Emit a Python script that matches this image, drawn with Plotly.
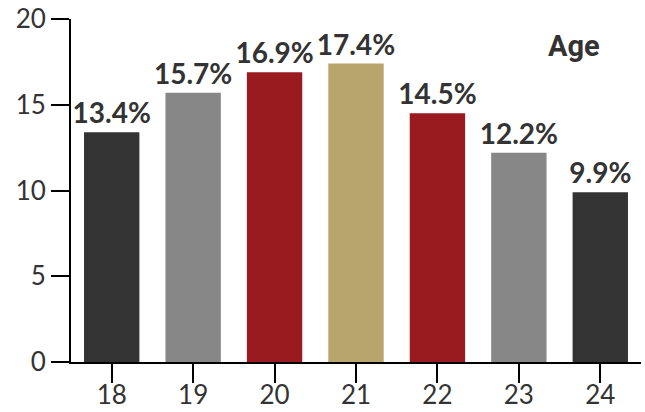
import plotly.graph_objects as go

ages = ["18", "19", "20", "21", "22", "23", "24"]
shares = [13.4, 15.7, 16.9, 17.4, 14.5, 12.2, 9.9]
bar_colors = ["#333333", "#878787", "#991b1f", "#b8a46d", "#991b1f", "#878787", "#333333"]
y_ticks = [0, 5, 10, 15, 20]

fig = go.Figure(
    go.Bar(
        x=ages,
        y=shares,
        marker=dict(color=bar_colors, line=dict(width=0)),
        text=[f"{v:.1f}%" for v in shares],
        textposition="outside",
        constraintext="none",
        textfont=dict(family="Lato", size=28, color="#333333", weight="bold"),
        cliponaxis=False,
    )
)

fig.add_annotation(
    text="<b>Age</b>",
    xref="paper", yref="paper",
    x=0.932, y=0.92, xanchor="right", yanchor="middle",
    showarrow=False,
    font=dict(family="Roboto", size=29, color="#333333"),
)

fig.update_layout(
    width=645, height=412,
    margin=dict(l=71, r=4, t=19, b=50),
    plot_bgcolor="white", paper_bgcolor="white",
    bargap=0.32,
    showlegend=False,
    font=dict(family="Lato", size=26, color="#333333"),
)
fig.update_xaxes(
    type="category", automargin=False,
    showline=True, linecolor="black", linewidth=2,
    ticks="outside", ticklen=19, tickwidth=2, tickcolor="black",
    ticklabelstandoff=-10,
    showgrid=False,
    tickfont=dict(family="Lato", size=26, color="#333333"),
)
fig.update_yaxes(
    range=[0, 20], automargin=False,
    tickvals=y_ticks,
    showline=True, linecolor="black", linewidth=2,
    ticks="outside", ticklen=18, tickwidth=2, tickcolor="black",
    showgrid=False, zeroline=False,
    tickfont=dict(family="Lato", size=26, color="#333333"),
)

fig.write_html("out.html")
